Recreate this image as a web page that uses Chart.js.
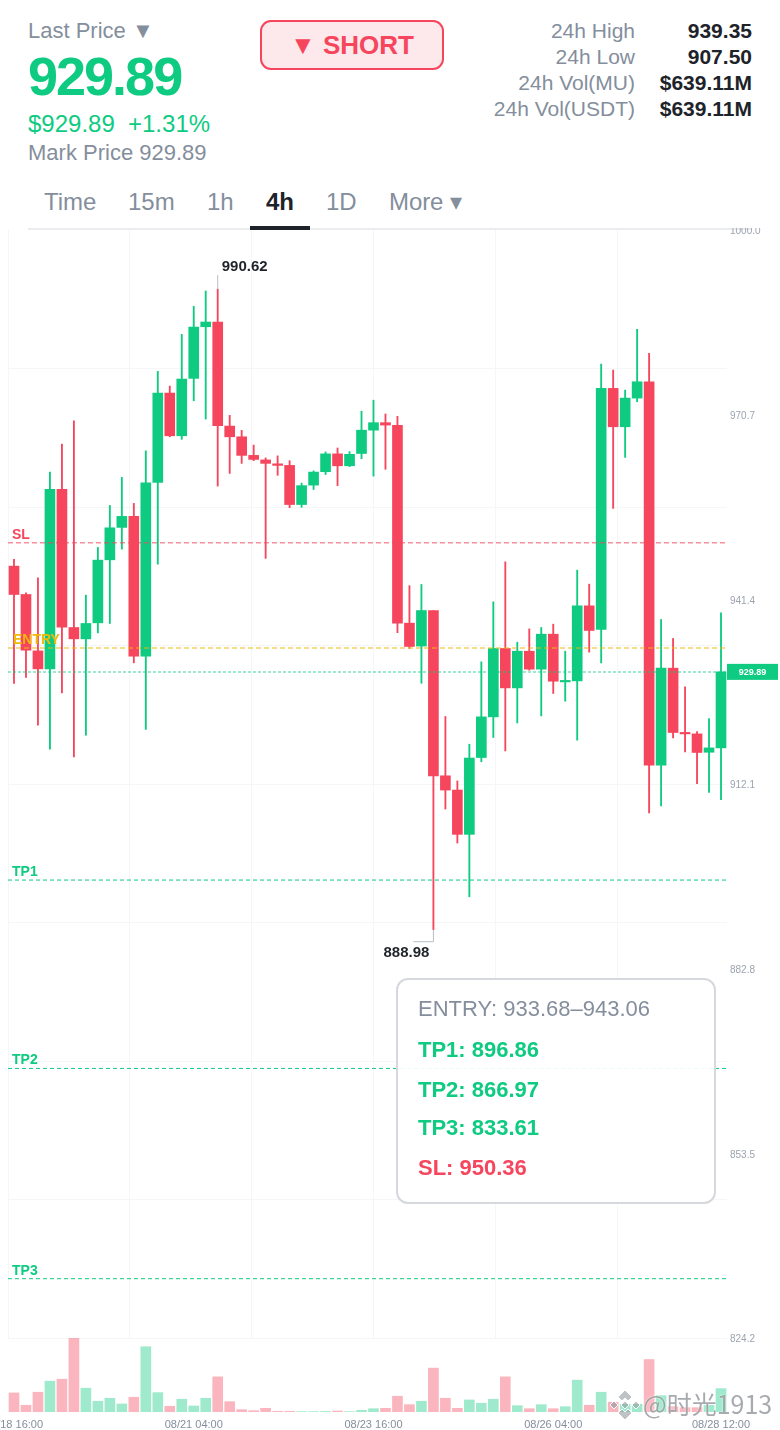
<!DOCTYPE html>
<html>
<head>
<meta charset="utf-8">
<title>MU 4h</title>
<script src="https://cdn.jsdelivr.net/npm/chart.js@4/dist/chart.umd.js"></script>
<style>
  html, body { margin: 0; padding: 0; background: #fff; }
  body { position: relative; width: 780px; height: 1430px; overflow: hidden; font-family: "Liberation Sans", Arial, sans-serif; color: #848E9C; }
  canvas { position: absolute; left: 0; }
  .t { position: absolute; white-space: nowrap; line-height: 1; }
  .r { text-align: right; }
  .lbl { font-size: 22px; }
  .stat { font-size: 21px; }
  .val { font-size: 21px; font-weight: bold; color: #1E2329; }
  .tab { font-size: 24px; top: 190px; }
  .green { color: #0ECB81; }
  #short { position: absolute; left: 260px; top: 20px; width: 180px; height: 46px; border: 2px solid #F6465D; border-radius: 11px; background: #FDE8EB; color: #F6465D; font-size: 26px; font-weight: bold; text-align: center; line-height: 46px; }
  #tabline { position: absolute; left: 28px; top: 228px; width: 724px; height: 2px; background: #EAECEF; }
  #tabactive { position: absolute; left: 250px; top: 226px; width: 60px; height: 4px; background: #1E2329; }
  #box { position: absolute; left: 396px; top: 978px; width: 316px; height: 222px; border: 2px solid #D5D8DC; border-radius: 12px; background: rgba(255,255,255,0.93); }
  #box div { position: absolute; left: 20px; font-size: 22px; line-height: 1; white-space: nowrap; font-weight: bold; color: #0ECB81; }
  #mark { position: absolute; left: 643px; top: 1386px; font-family: "Noto Sans CJK SC", sans-serif; font-size: 25px; line-height: 34px; color: rgba(120,125,130,0.65); text-shadow: 0 0 2px #fff; white-space: nowrap; }
  #logo { position: absolute; left: 610px; top: 1390px; }
</style>
</head>
<body>
<div class="t lbl" style="left:28px;top:20px">Last Price ▼</div>
<div class="t green" style="left:28px;top:49px;font-size:54px;font-weight:bold;letter-spacing:-2px">929.89</div>
<div class="t green" style="left:28px;top:112px;font-size:24px">$929.89</div>
<div class="t green" style="left:128px;top:112px;font-size:24px">+1.31%</div>
<div class="t lbl" style="left:28px;top:142px">Mark Price 929.89</div>
<div id="short">▼ SHORT</div>

<div class="t stat r" style="right:145px;top:20px">24h High</div>
<div class="t val r" style="right:28px;top:20px">939.35</div>
<div class="t stat r" style="right:145px;top:46px">24h Low</div>
<div class="t val r" style="right:28px;top:46px">907.50</div>
<div class="t stat r" style="right:145px;top:72px">24h Vol(MU)</div>
<div class="t val r" style="right:28px;top:72px">$639.11M</div>
<div class="t stat r" style="right:145px;top:98px">24h Vol(USDT)</div>
<div class="t val r" style="right:28px;top:98px">$639.11M</div>

<div class="t tab" style="left:44px">Time</div>
<div class="t tab" style="left:128px">15m</div>
<div class="t tab" style="left:207px">1h</div>
<div class="t tab" style="left:266px;font-weight:bold;color:#1E2329">4h</div>
<div class="t tab" style="left:326px">1D</div>
<div class="t tab" style="left:389px;letter-spacing:-0.1px">More ▾</div>
<div id="tabline"></div>
<div id="tabactive"></div>

<canvas id="priceChart" width="780" height="1117" style="top:228px"></canvas>
<canvas id="volChart" width="780" height="92" style="top:1338px"></canvas>

<div id="box">
  <div style="top:18px;font-weight:normal;color:#848E9C">ENTRY: 933.68–943.06</div>
  <div style="top:59px">TP1: 896.86</div>
  <div style="top:99px">TP2: 866.97</div>
  <div style="top:137px">TP3: 833.61</div>
  <div style="top:177px;color:#F6465D">SL: 950.36</div>
</div>

<svg id="logo" width="30" height="30" viewBox="0 0 30 30">
  <g fill="rgba(150,155,160,0.6)" stroke="#fff" stroke-width="1">
    <polygon points="15,0 22,7 18,11 15,8 12,11 8,7"/>
    <polygon points="15,30 22,23 18,19 15,22 12,19 8,23"/>
    <polygon points="4,11 8,15 4,19 0,15"/>
    <polygon points="26,11 30,15 26,19 22,15"/>
    <polygon points="15,11 19,15 15,19 11,15"/>
  </g>
</svg>
<div id="mark">@时光1913</div>

<script>
const categories = [
  '08/18 16:00','08/18 20:00','08/19 00:00','08/19 04:00','08/19 08:00','08/19 12:00','08/19 16:00','08/19 20:00',
  '08/20 00:00','08/20 04:00','08/20 08:00','08/20 12:00','08/20 16:00','08/20 20:00','08/21 00:00','08/21 04:00',
  '08/21 08:00','08/21 12:00','08/21 16:00','08/21 20:00','08/22 00:00','08/22 04:00','08/22 08:00','08/22 12:00',
  '08/22 16:00','08/22 20:00','08/23 00:00','08/23 04:00','08/23 08:00','08/23 12:00','08/23 16:00','08/23 20:00',
  '08/24 00:00','08/24 04:00','08/24 08:00','08/24 12:00','08/24 16:00','08/24 20:00','08/25 00:00','08/25 04:00',
  '08/25 08:00','08/25 12:00','08/25 16:00','08/25 20:00','08/26 00:00','08/26 04:00','08/26 08:00','08/26 12:00',
  '08/26 16:00','08/26 20:00','08/27 00:00','08/27 04:00','08/27 08:00','08/27 12:00','08/27 16:00','08/27 20:00',
  '08/28 00:00','08/28 04:00','08/28 08:00','08/28 12:00'
];
const shownDates = ['08/18 16:00','08/21 04:00','08/23 16:00','08/26 04:00','08/28 12:00'];

const opens = [946.67,942.17,933.22,930.37,958.84,936.93,935.13,937.67,947.67,952.81,954.56,932.38,959.95,974.13,967.35,976.46,984.65,985.4,968.89,967.19,964.24,963.52,962.9,962.65,956.44,959.52,961.65,964.48,962.59,964.54,968.24,969.43,969,937.62,933.98,939.62,913.4,911.14,904.11,916.3,922.75,933.6,927.35,933.17,930.32,935.87,928.3,928.46,940.37,936.62,974.87,968.78,973.33,975.92,915.08,930.48,920.21,920.05,917.14,917.83];
const highs = [947.73,942.43,944.81,961.59,966.03,969.73,942.06,949.63,956.3,960.75,956.62,964.97,977.57,975.24,983.44,987.89,990.32,990.62,970.59,968.21,965.87,963.84,964.16,963.4,959.84,961.78,964.78,965.41,964.84,971.25,973,970.81,970.43,943.57,943.76,939.62,922.81,912.59,918.41,931.48,941,947.35,934.6,936.71,936.94,937.46,933.17,946.03,943.81,978.73,977.78,974.6,984.24,980.43,938.21,935.19,927.51,920.43,922.49,939.25];
const lows = [928.05,929,921.43,917.62,926.56,916.4,919.84,936.08,937.57,949.37,931.32,920.75,946.98,967.19,966.78,972.9,970,959.37,961.38,962.97,963.4,947.9,961.08,955.94,956,958.83,961.21,959.44,962.46,963.71,960.95,962.03,936.11,933.6,928.08,888.98,908.13,902.73,894.21,915.63,919.48,917.35,921.79,930.16,922.9,926.46,925.24,919.05,933.02,931.32,955.83,963.92,972.75,907.51,908.62,919.41,917.19,912.17,910.75,909.63];
const closes = [942.17,933.33,930.37,958.84,936.98,935.13,937.57,947.62,952.75,954.56,932.38,959.89,974.13,967.35,976.35,984.6,985.4,968.94,967.19,964.24,963.6,962.97,962.65,956.44,959.44,961.59,964.48,962.59,964.41,968.24,969.43,969.05,937.62,933.92,939.62,913.4,911.14,904.11,916.22,922.75,933.6,927.35,933.17,930.32,935.87,928.41,928.41,940.37,936.46,974.87,968.78,973.33,975.92,915.08,930.48,920.27,920.05,917.1,917.83,929.89];
const volumes = [19,6.7,19.7,30.7,32.7,73.7,23.7,10.7,13.7,8,14.7,65,19.3,5.7,12.7,6,13.7,35,10.3,2.3,1.3,3.7,0.7,0.7,0.4,0.4,0.6,1,0.4,1.7,3.3,3.7,15.7,7.3,10.7,43.7,13.7,3.7,12,8.7,12.7,35,6.3,3.3,7.3,3.3,5.3,31.7,6.7,19.7,9.7,7.7,7.7,52.3,16.3,5.3,4.3,4.3,6.7,23.3];

const priceTicks = [1000, 970.7, 941.4, 912.1, 882.8, 853.5, 824.2];
const gridRows = [978.025, 956.05, 934.075, 912.1, 890.125, 868.15, 846.175, 824.2];
const gridCols = [0, 1, 2, 3, 4, 5];

const levelNames = ['SL', 'ENTRY', 'TP1', 'TP2', 'TP3'];
const levelValues = [950.36, 933.68, 896.86, 866.97, 833.61];
const lastPrice = 929.89;

const UP = '#0ECB81', DOWN = '#F6465D';
const colGridMax = 5.895; // plot width / grid column width
const candleColors = closes.map((c, i) => (c >= opens[i] ? UP : DOWN));
const volColors = closes.map((c, i) => (c >= opens[i] ? 'rgba(14,203,129,0.4)' : 'rgba(246,70,93,0.4)'));

function levelLine(value, color, width, dash) {
  return {
    type: 'line',
    xAxisID: 'xGrid',
    yAxisID: 'y',
    data: [{ x: 0, y: value }, { x: colGridMax, y: value }],
    borderColor: color,
    borderWidth: width,
    borderDash: dash,
    pointRadius: 0,
    order: 0
  };
}

const levelStyle = {
  SL: ['rgba(246,70,93,0.6)', 1.5, [5, 3]],
  ENTRY: ['rgba(240,185,11,0.65)', 1.5, [5, 3]],
  TP1: ['#0ECB81', 1, [4, 3]],
  TP2: ['#0ECB81', 1, [4, 3]],
  TP3: ['#0ECB81', 1, [4, 3]]
};
const levelTextColor = { SL: DOWN, ENTRY: '#F0B90B', TP1: UP, TP2: UP, TP3: UP };

// texts that sit on the price scale: level names, high/low marks, last price tag
const overlay = {
  id: 'overlay',
  afterDraw(chart) {
    const ctx = chart.ctx, y = chart.scales.y, x = chart.scales.x;
    ctx.save();
    ctx.textBaseline = 'middle';

    ctx.font = 'bold 14px "Liberation Sans"';
    levelNames.forEach((name, i) => {
      ctx.fillStyle = levelTextColor[name];
      ctx.fillText(name, name === 'ENTRY' ? 13 : 12, y.getPixelForValue(levelValues[i]) - 8);
    });

    const hiVal = Math.max(...highs), loVal = Math.min(...lows);
    const hx = x.getPixelForValue(highs.indexOf(hiVal)), hy = y.getPixelForValue(hiVal);
    const lx = x.getPixelForValue(lows.indexOf(loVal)), ly = y.getPixelForValue(loVal);
    ctx.strokeStyle = '#B7BDC6';
    ctx.lineWidth = 1;
    ctx.beginPath();
    ctx.moveTo(hx, hy);
    ctx.lineTo(hx, hy - 14);
    ctx.moveTo(lx, ly);
    ctx.lineTo(lx, ly + 12);
    ctx.lineTo(lx - 20, ly + 12);
    ctx.stroke();
    ctx.font = 'bold 15px "Liberation Sans"';
    ctx.fillStyle = '#1E2329';
    ctx.fillText(hiVal.toFixed(2), hx + 4, hy - 22);
    ctx.textAlign = 'right';
    ctx.fillText(loVal.toFixed(2), lx - 4, ly + 23);

    const py = y.getPixelForValue(lastPrice);
    ctx.fillStyle = UP;
    ctx.fillRect(727, py - 8, 51, 16);
    ctx.fillStyle = '#fff';
    ctx.font = 'bold 9px "Liberation Sans"';
    ctx.textAlign = 'center';
    ctx.fillText(lastPrice.toFixed(2), 752.5, py + 0.5);
    ctx.restore();
  }
};

new Chart(document.getElementById('priceChart'), {
  type: 'bar',
  plugins: [overlay],
  data: {
    labels: categories,
    datasets: [
      ...levelNames.map((n, i) => levelLine(levelValues[i], ...levelStyle[n])),
      levelLine(lastPrice, 'rgba(14,203,129,0.55)', 1.5, [3, 2]),
      {
        data: opens.map((o, i) => [o, closes[i]]),
        backgroundColor: candleColors,
        barThickness: 10,
        minBarLength: 1.5,
        grouped: false,
        order: 1
      },
      {
        data: lows.map((l, i) => [l, highs[i]]),
        backgroundColor: candleColors,
        barThickness: 1.2,
        grouped: false,
        order: 2
      }
    ]
  },
  options: {
    responsive: false,
    animation: false,
    layout: { padding: { top: 2, bottom: 7, left: 8, right: 0 } },
    plugins: { legend: { display: false }, tooltip: { enabled: false } },
    scales: {
      x: { display: false },
      xGrid: {
        type: 'linear',
        axis: 'x',
        position: 'bottom',
        offset: false,
        min: 0,
        max: colGridMax,
        afterBuildTicks(s) { s.ticks = gridCols.map(value => ({ value })); },
        grid: { color: '#F5F6F7', drawTicks: false, offset: false },
        border: { display: false },
        ticks: { display: false }
      },
      y: {
        position: 'right',
        min: 824.2,
        max: 1000,
        afterBuildTicks(s) { s.ticks = priceTicks.map(value => ({ value })); },
        afterFit(s) { s.width = 53; s.paddingTop = 0; s.paddingBottom = 0; },
        grid: { display: false, drawTicks: false },
        border: { display: false },
        ticks: {
          padding: 3,
          labelOffset: 1.5,
          color: '#9CA3AF',
          font: { family: 'Liberation Sans', size: 10 },
          callback: v => v.toFixed(1)
        }
      },
      yGrid: {
        axis: 'y',
        position: 'left',
        min: 824.2,
        max: 1000,
        afterBuildTicks(s) { s.ticks = gridRows.map(value => ({ value })); },
        grid: { color: '#F5F6F7', drawTicks: false },
        border: { display: false },
        ticks: { display: false }
      }
    }
  }
});

new Chart(document.getElementById('volChart'), {
  type: 'bar',
  data: {
    labels: categories,
    datasets: [{
      data: volumes,
      backgroundColor: volColors,
      barThickness: 10
    }]
  },
  options: {
    responsive: false,
    animation: false,
    layout: { padding: { top: 0, bottom: 0, left: 8, right: 53 } },
    plugins: { legend: { display: false }, tooltip: { enabled: false } },
    scales: {
      x: {
        afterFit(s) { s.height = 18; s.paddingLeft = 0; s.paddingRight = 0; },
        grid: { display: false, drawTicks: false },
        border: { display: false },
        ticks: {
          autoSkip: false,
          maxRotation: 0,
          minRotation: 0,
          padding: 6,
          color: '#848E9C',
          font: { family: 'Liberation Sans', size: 11 },
          callback(v) {
            const label = this.getLabelForValue(v);
            return shownDates.includes(label) ? label : '';
          }
        }
      },
      y: { display: false, min: 0, max: 73.7 }
    }
  }
});
</script>
</body>
</html>
